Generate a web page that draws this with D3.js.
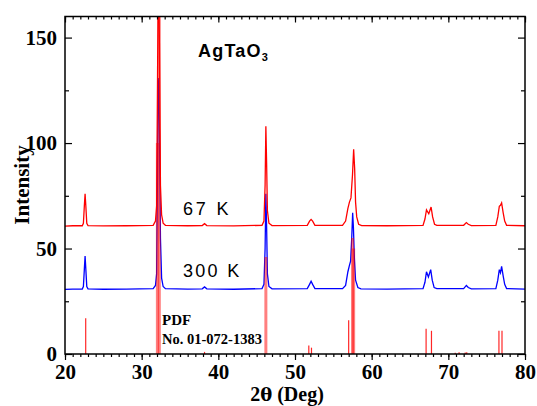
<!DOCTYPE html>
<html><head><meta charset="utf-8">
<script src="https://cdn.jsdelivr.net/npm/d3@7"></script>
<style>body{margin:0;background:#fff}svg{display:block}</style>
</head><body>
<svg id="c" width="537" height="406"></svg>
<script>
// ---- data ----
const xTicks = [20, 30, 40, 50, 60, 70, 80];
const yTicks = [0, 50, 100, 150];
// 300 K pattern [2theta, intensity]
const blue300K = [
 [20,30.6],[21,30.8],[22.25,30.8],[22.4,32],[22.52,40],[22.62,46.5],[22.72,40],[22.84,32],[23.0,30.9],
 [25,30.7],[28,30.8],[31.5,31.0],[31.8,32.5],[31.95,38],[32.05,80],[32.15,130.8],[32.25,125],[32.35,95],
 [32.45,55],[32.6,36],[32.8,32],[33.1,31],[36,30.8],[37.9,30.9],[38.2,31.8],[38.5,30.9],[42,30.7],
 [45.7,31],[45.95,33],[46.1,50],[46.2,76],[46.3,60],[46.4,38],[46.6,32],[47,30.9],[51.6,31],[51.9,33],
 [52.1,34.5],[52.3,33],[52.6,31],[56.2,31],[56.6,32.5],[56.9,39],[57.1,42],[57.25,44],[57.4,55],
 [57.52,67],[57.62,60],[57.75,45],[57.9,35],[58.2,31.5],[58.6,30.9],[62,30.8],[66.7,31],[66.95,34],
 [67.15,39],[67.4,36.5],[67.7,40],[67.9,35],[68.15,31.5],[68.5,31],[72,31],[72.35,32.5],[72.6,31.5],
 [73,30.9],[76.2,31],[76.45,35],[76.65,40],[76.8,38.5],[76.95,41.5],[77.15,37],[77.35,33],[77.6,31],[80,30.8]
];
// 67 K pattern
const red67K = [
 [20,60.6],[21,60.8],[22.25,60.8],[22.4,62],[22.52,70],[22.62,76],[22.72,70],[22.84,62],[23.0,60.9],
 [25,60.7],[28,60.8],[31.5,61.0],[31.8,63],[31.95,70],[32.05,120],[32.15,175],[32.25,175],[32.35,130],
 [32.45,80],[32.6,66],[32.8,62],[33.1,61],[36,60.8],[37.9,60.9],[38.2,61.8],[38.5,60.9],[42,60.7],
 [45.7,61],[45.95,63],[46.1,80],[46.2,108],[46.3,90],[46.4,68],[46.6,62],[47,60.9],[51.6,61],[51.9,63],
 [52.1,63.8],[52.3,63],[52.6,61],[56.2,61],[56.6,63],[56.9,69],[57.1,72],[57.3,74],[57.5,85],
 [57.65,97],[57.78,88],[57.9,72],[58.05,65],[58.3,61.5],[58.7,60.9],[62,60.8],[66.7,61],[66.95,64],
 [67.15,68.3],[67.45,66.5],[67.75,69.7],[67.95,65],[68.2,61.5],[68.5,61],[72,61],[72.35,62.3],[72.6,61.5],
 [73,60.9],[76.2,61],[76.45,65],[76.65,70],[76.8,70.5],[76.95,71.6],[77.15,67],[77.35,63],[77.6,61],[80,60.8]
];
// reference pattern PDF 01-072-1383 sticks [2theta, intensity]
const pdfSticks = [
 [22.7,17],[32.05,100],[32.3,165],[38.2,1],[46.2,46],[51.8,4],[52.15,3],[57.0,16],[57.5,55],[57.65,50],
 [67.1,12],[67.8,11],[70.9,0.6],[71.4,0.8],[72.2,0.7],[72.4,0.8],[76.6,11],[77.0,11]
];
const strongSticks = [32.3, 32.05, 46.2, 57.5, 57.65];

// ---- layout ----
const svg = d3.select("#c");
const L = 65, R = 525, T = 16.5, B = 354;
const x = d3.scaleLinear().domain([20, 80]).range([L, R]);
const y = d3.scaleLinear().domain([0, 160]).range([B, T]);

svg.append("defs").append("clipPath").attr("id","pc")
  .append("rect").attr("x",L).attr("y",T).attr("width",R-L).attr("height",B-T);

const plot = svg.append("g").attr("clip-path","url(#pc)");
const line = d3.line().x(d=>x(d[0])).y(d=>y(d[1]));
plot.append("path").datum(blue300K).attr("d",line).attr("fill","none").attr("stroke","#0000ff").attr("stroke-width",1.3);
plot.append("path").datum(red67K).attr("d",line).attr("fill","none").attr("stroke","#ff0000").attr("stroke-width",1.3);
plot.selectAll("line.stick").data(pdfSticks).enter().append("line")
  .attr("x1",d=>x(d[0])).attr("x2",d=>x(d[0]))
  .attr("y1",y(0)).attr("y2",d=>y(d[1]))
  .attr("stroke","#ff0000")
  .attr("stroke-opacity",d=>strongSticks.includes(d[0])?0.5:0.85)
  .attr("stroke-width",d=>strongSticks.includes(d[0])?3:1.2);

// ---- axes ----
const font = "'Liberation Serif','Times New Roman',serif";
const axB = d3.axisBottom(x).tickValues(d3.range(20,81,1)).tickSize(3).tickFormat("");
svg.append("g").attr("transform",`translate(0,${B})`).call(axB);
const axB2 = d3.axisBottom(x).tickValues(xTicks).tickSize(6).tickPadding(4).tickFormat(d3.format("d"));
const gB2 = svg.append("g").attr("transform",`translate(0,${B})`).call(axB2);
gB2.selectAll("text").attr("font-family",font).attr("font-weight","bold").attr("font-size",21).attr("fill","#000");

const axT = d3.axisBottom(x).tickValues(d3.range(20,81,1)).tickSize(3).tickFormat("");
svg.append("g").attr("transform",`translate(0,${T})`).call(axT);
const axT2 = d3.axisBottom(x).tickValues(xTicks).tickSize(6).tickFormat("");
svg.append("g").attr("transform",`translate(0,${T})`).call(axT2);

const axL = d3.axisRight(y).tickValues([25,75,125]).tickSize(4).tickFormat("");
svg.append("g").attr("transform",`translate(${L},0)`).call(axL);
const axL2 = d3.axisRight(y).tickValues(yTicks).tickSize(7).tickFormat("");
svg.append("g").attr("transform",`translate(${L},0)`).call(axL2);
const axR = d3.axisLeft(y).tickValues([25,75,125]).tickSize(4).tickFormat("");
svg.append("g").attr("transform",`translate(${R},0)`).call(axR);
const axR2 = d3.axisLeft(y).tickValues(yTicks).tickSize(7).tickFormat("");
svg.append("g").attr("transform",`translate(${R},0)`).call(axR2);
svg.selectAll(".domain").remove();
svg.selectAll(".tick line").attr("stroke","#000").attr("stroke-width",1.2);

// y tick labels
svg.append("g").selectAll("text").data(yTicks).enter().append("text")
  .attr("x",L-8).attr("y",d=>y(d)).attr("dy","0.35em").attr("text-anchor","end")
  .attr("font-family",font).attr("font-weight","bold").attr("font-size",21).text(d=>d);

// frame
svg.append("rect").attr("x",L).attr("y",T).attr("width",R-L).attr("height",B-T)
  .attr("fill","none").attr("stroke","#000").attr("stroke-width",1.5);

// axis titles
const xl = svg.append("text").attr("x",287).attr("y",401).attr("text-anchor","middle")
  .attr("font-family",font).attr("font-weight","bold").attr("font-size",20);
xl.append("tspan").text("2");
xl.append("tspan").attr("font-family","'DejaVu Serif',serif").attr("font-size",18).text("θ");
xl.append("tspan").text(" (Deg)");
svg.append("text").attr("transform","translate(29,185) rotate(-90)").attr("text-anchor","middle")
  .attr("font-family",font).attr("font-weight","bold").attr("font-size",21).text("Intensity");

// annotations
const sans = "'Liberation Sans',Arial,sans-serif";
const ag = svg.append("text").attr("x",198).attr("y",57).attr("font-family",sans).attr("font-weight","bold")
  .attr("font-size",18).attr("letter-spacing",1.2);
ag.append("tspan").text("AgTaO");
ag.append("tspan").attr("font-size",11).attr("dy",4).text("3");
svg.append("text").attr("x",183).attr("y",215).attr("font-family",sans).attr("font-size",18)
  .attr("letter-spacing",2.8).text("67 K");
svg.append("text").attr("x",183).attr("y",277).attr("font-family",sans).attr("font-size",18)
  .attr("letter-spacing",2.3).text("300 K");
svg.append("text").attr("x",162).attr("y",325).attr("font-family",font).attr("font-weight","bold")
  .attr("font-size",15).text("PDF");
svg.append("text").attr("x",162).attr("y",344).attr("font-family",font).attr("font-weight","bold")
  .attr("font-size",14.5).text("No. 01-072-1383");
</script>
</body></html>
